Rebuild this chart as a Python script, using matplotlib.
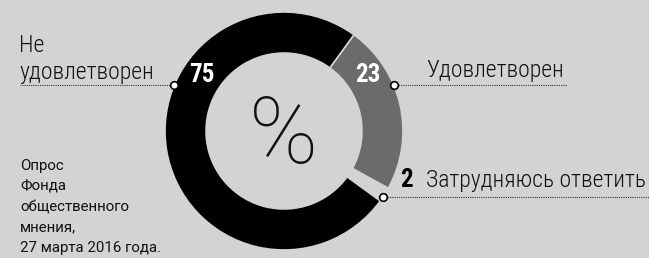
import numpy as np
import matplotlib.pyplot as plt
from matplotlib import font_manager

# данные опроса
labels = ['Удовлетворен', 'Затрудняюсь ответить', 'Не удовлетворен']
values = [23, 2, 75]
colors = ['#6b6b6b', '#d3d3d3', '#000000']
source = ['Опрос', 'Фонда', 'общественного', 'мнения,', '27 марта 2016 года.']

bg = '#d3d3d3'
names = {f.name for f in font_manager.fontManager.ttflist}


def pick(*fams):
    for f in fams:
        if f in names:
            return f
    return 'DejaVu Sans'


cond = pick('Roboto Condensed', 'PT Sans Narrow', 'Liberation Sans Narrow', 'Roboto')
regular = pick('Roboto', 'DejaVu Sans')

fig = plt.figure(figsize=(6.49, 2.58), dpi=100, facecolor=bg)
ax = fig.add_axes([0, 0, 1, 1])
ax.set_facecolor(bg)

H = 258
cx, cy, R = 284, H - 131, 119
ax.pie(values, colors=colors, startangle=54, counterclock=False,
       center=(cx, cy), radius=R,
       wedgeprops=dict(width=R * 0.345, edgecolor=bg, linewidth=1.2))
ax.set_xlim(0, 649)
ax.set_ylim(0, H)
ax.set_aspect('auto')
ax.axis('off')

# центр
ax.text(cx, cy - 7, '%', fontsize=67, family=regular, fontweight='light',
        ha='center', va='center', color='#111111')

# подписи значений
num = dict(fontsize=18, family=cond, fontweight='bold', ha='center', va='center')
ax.text(202, H - 75, str(values[2]), color='white', **num)
ax.text(368, H - 75, str(values[0]), color='white', **num)
ax.text(406, H - 180, str(values[1]), color='black', **num)


# выноски
def dot(angle, x_end):
    a = np.deg2rad(angle)
    x0 = cx + R * np.cos(a)
    y0 = cy + R * np.sin(a)
    ax.plot([x0, x_end], [y0, y0], ls=(0, (1, 1)), color='#333333', lw=0.8)
    ax.plot(x0, y0, 'o', ms=5.5, mfc='white', mec='black', mew=1.2)


dot(157, 20)
dot(23, 567)
dot(-33.5, 649)

lab = dict(fontsize=17, family=cond, fontweight='light', va='center', color='#111111')
ax.text(19, H - 46, 'Не', **lab)
ax.text(19, H - 72, 'удовлетворен', **lab)
ax.text(426, H - 71, labels[0], **lab)
ax.text(426, H - 180, labels[1], **lab)

for i, s in enumerate(source):
    ax.text(20, H - 166 - i * 20.5, s, fontsize=10.8, family=regular,
            va='center', color='#111111')

fig.savefig('out.png', dpi=100, facecolor=bg)
